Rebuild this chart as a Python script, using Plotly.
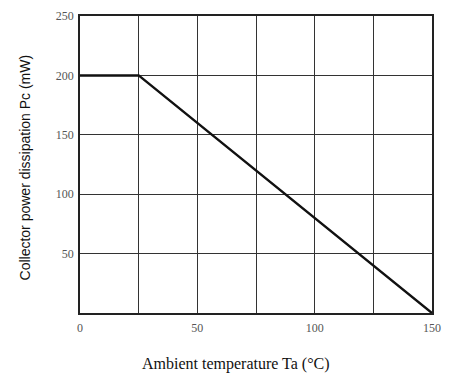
import plotly.graph_objects as go

# Data
temperature_c = [0, 25, 150]
power_mw = [200, 200, 0]

x_tick_vals = [0, 25, 50, 75, 100, 125, 150]
x_tick_text = ["0", "", "50", "", "100", "", "150"]
y_tick_vals = [0, 50, 100, 150, 200, 250]
y_tick_text = ["", "50", "100", "150", "200", "250"]

x_title = "Ambient temperature Ta (°C)"
y_title = "Collector power dissipation Pc (mW)"

SERIF = "Liberation Serif, Times New Roman, serif"
SANS = "Liberation Sans, Arial, sans-serif"

fig = go.Figure()
fig.add_trace(go.Scatter(
    x=temperature_c, y=power_mw, mode="lines",
    line=dict(color="#111111", width=2.5),
    showlegend=False, hoverinfo="skip",
))

fig.update_layout(
    width=450, height=374,
    margin=dict(l=80, r=9, t=14, b=61),
    paper_bgcolor="white", plot_bgcolor="white",
    font=dict(family=SERIF, color="#222222", size=11),
)
fig.update_xaxes(
    range=[0, 150], tickvals=x_tick_vals, ticktext=x_tick_text,
    showgrid=True, gridcolor="#333333", gridwidth=1,
    showline=True, linecolor="#222222", linewidth=1.5, mirror=True,
    zeroline=False, ticks="", ticklabelstandoff=3,
    tickfont=dict(family=SERIF, size=12, color="#555555"),
)
fig.update_yaxes(
    range=[0, 250], tickvals=y_tick_vals, ticktext=y_tick_text,
    showgrid=True, gridcolor="#333333", gridwidth=1,
    showline=True, linecolor="#222222", linewidth=1.5, mirror=True,
    zeroline=False, ticks="", ticklabelstandoff=2,
    tickfont=dict(family=SERIF, size=12, color="#555555"),
)
fig.add_annotation(
    text=x_title, xref="paper", yref="paper", x=0.443, y=0,
    yshift=-51, xanchor="center", yanchor="middle", showarrow=False,
    font=dict(family=SERIF, size=16, color="#111111"),
)
fig.add_annotation(
    text=y_title, xref="paper", yref="paper", x=0, y=0.49,
    xshift=-55, xanchor="center", yanchor="middle", showarrow=False,
    textangle=-90, font=dict(family=SANS, size=14, color="#111111"),
)

fig.write_html("out.html")
